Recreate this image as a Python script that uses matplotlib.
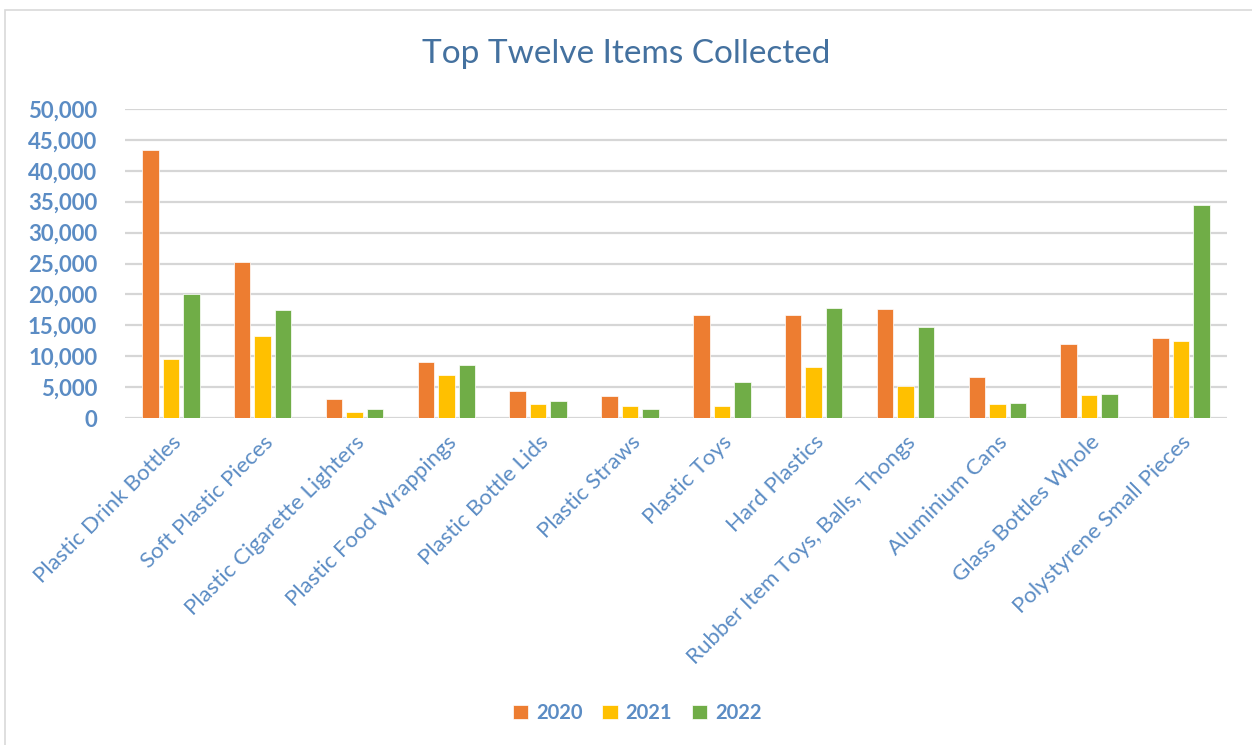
import numpy as np
import matplotlib.pyplot as plt
from matplotlib.patches import Rectangle
from matplotlib.ticker import FuncFormatter

items = ['Plastic Drink Bottles', 'Soft Plastic Pieces', 'Plastic Cigarette Lighters',
         'Plastic Food Wrappings', 'Plastic Bottle Lids', 'Plastic Straws', 'Plastic Toys',
         'Hard Plastics', 'Rubber Item Toys, Balls, Thongs', 'Aluminium Cans',
         'Glass Bottles Whole', 'Polystyrene Small Pieces']
years = ['2020', '2021', '2022']
counts_2020 = [43400, 25300, 3000, 9000, 4300, 3500, 16600, 16600, 17700, 6600, 11900, 12900]
counts_2021 = [9500, 13200, 1000, 6900, 2200, 1900, 2000, 8200, 5100, 2300, 3700, 12400]
counts_2022 = [20100, 17400, 1500, 8500, 2800, 1500, 5800, 17800, 14700, 2500, 3900, 34500]

colors = ['#ed7d31', '#ffc000', '#70ad47']
label_color = '#5b8cc4'

plt.rcParams['font.family'] = ['Lato', 'DejaVu Sans']

fig = plt.figure(figsize=(12.52, 7.45), dpi=100)
ax = fig.add_axes([0.0998, 0.4389, 0.8802, 0.4148])

# outer chart border
fig.patches.append(Rectangle((0.004, -0.01), 1.2, 0.997, transform=fig.transFigure,
                             fill=False, edgecolor='#d9d9d9', linewidth=1.2))

x = np.arange(len(items))
step = 0.223
for i, (vals, yr) in enumerate(zip([counts_2020, counts_2021, counts_2022], years)):
    ax.bar(x + (i - 1) * step, vals, width=0.18, color=colors[i], label=yr,
           edgecolor='white', linewidth=0.5, zorder=3)

ax.set_xlim(-0.5, len(items) - 0.5)
ax.set_ylim(0, 50000)
ax.set_yticks(np.arange(0, 50001, 5000))
ax.yaxis.set_major_formatter(FuncFormatter(lambda v, p: f'{int(v):,}'))
ax.grid(axis='y', color='#d6d6d6', linewidth=1.6, zorder=0)
ax.set_axisbelow(True)
for s in ax.spines.values():
    s.set_visible(False)
ax.tick_params(length=0)
ax.tick_params(axis='y', labelsize=16, labelcolor=label_color, pad=20)
for t in ax.get_yticklabels():
    t.set_fontweight('bold')

ax.set_xticks(x)
ax.set_xticklabels(items, rotation=45, ha='right', rotation_mode='anchor',
                   fontsize=16, color=label_color)
ax.tick_params(axis='x', pad=10)

fig.text(0.5, 0.927, 'Top Twelve Items Collected', ha='center', va='center',
         fontsize=24, color='#44719f')

leg = fig.legend(loc='center', bbox_to_anchor=(0.509, 0.043), ncol=3, frameon=False,
                 handlelength=0.75, handleheight=0.75, handletextpad=0.4,
                 columnspacing=1.0, fontsize=14.5)
for t in leg.get_texts():
    t.set_color(label_color)
    t.set_fontweight('bold')

fig.savefig('out.png', dpi=100)
